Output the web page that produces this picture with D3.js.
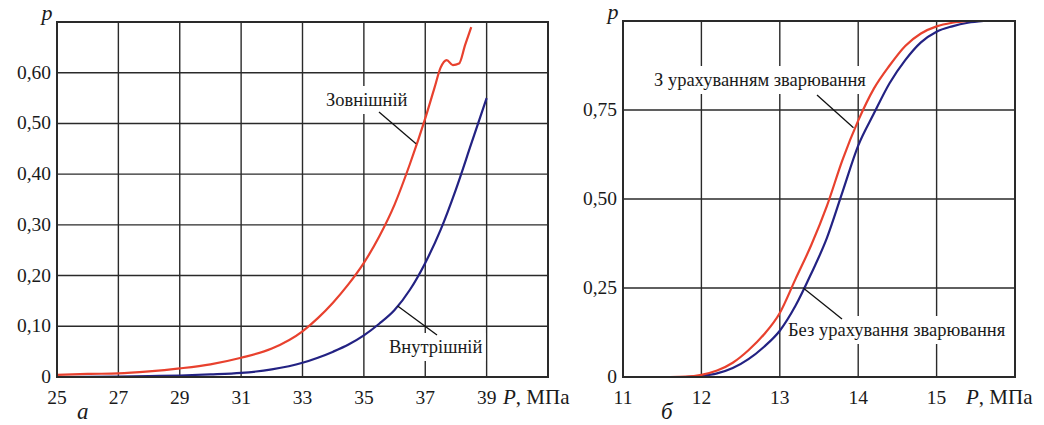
<!DOCTYPE html>
<html><head><meta charset="utf-8">
<script src="https://cdn.jsdelivr.net/npm/d3@7"></script>
<style>body{margin:0;background:#fff}svg{display:block}</style>
</head><body><svg id="c" width="1044" height="425"></svg>
<script>
// Panel a data
const aOuterP = [25,26,27,28,29,30,31,32,33,33.5,34,34.5,35,35.5,36,36.5,37,37.3,37.5,37.7,37.9,38.1,38.3,38.5];
const aOuterV = [0.004,0.006,0.007,0.011,0.017,0.025,0.038,0.056,0.09,0.116,0.147,0.183,0.225,0.277,0.34,0.42,0.51,0.57,0.61,0.625,0.615,0.618,0.655,0.69];
const aInnerP = [25,27,28,29,30,31,32,33,33.5,34,34.5,35,35.5,36,36.5,37,37.5,38,38.5,39];
const aInnerV = [0,0.001,0.002,0.003,0.005,0.008,0.015,0.028,0.038,0.05,0.064,0.082,0.105,0.132,0.172,0.225,0.29,0.37,0.46,0.55];
const aXTicks = [25,27,29,31,33,35,37,39];
const aYTicks = [0,0.1,0.2,0.3,0.4,0.5,0.6];
const aYLabels = ["0","0,10","0,20","0,30","0,40","0,50","0,60"];
// Panel b data
const bWithP = [11.6,11.8,12.0,12.2,12.4,12.6,12.8,13.0,13.2,13.4,13.6,13.8,14.0,14.2,14.4,14.6,14.8,15.0,15.2,15.4];
const bWithV = [0,0.001,0.006,0.018,0.04,0.075,0.12,0.18,0.275,0.37,0.48,0.61,0.72,0.81,0.875,0.93,0.965,0.985,0.995,1.0];
const bWithoutP = [11.6,11.8,12.0,12.2,12.4,12.6,12.8,13.0,13.2,13.4,13.6,13.8,14.0,14.2,14.4,14.6,14.8,15.0,15.2,15.4,15.6];
const bWithoutV = [0,0,0.003,0.01,0.025,0.05,0.085,0.13,0.2,0.29,0.39,0.52,0.65,0.74,0.825,0.89,0.94,0.97,0.985,0.995,1.0];
const bXTicks = [11,12,13,14,15];
const bYTicks = [0,0.25,0.5,0.75];
const bYLabels = ["0","0,25","0,50","0,75"];

const RED = "#e8412e", BLUE = "#232283", GRID = "#2a2a2a", TXT = "#1a1a1a";
const FONT = '"Liberation Serif"';
const svg = d3.select("#c");

function txt(g){ return g.append("text").style("font-family", FONT).attr("fill", TXT); }

function panel(o){
  const g = svg.append("g");
  const grid = g.append("g"), bg = g.append("g"), curves = g.append("g"), top = g.append("g");
  const x = d3.scaleLinear().domain(o.xd).range([o.x0, o.x1]);
  const y = d3.scaleLinear().domain(o.yd).range([o.y0, o.y1]);
  grid.selectAll(".vg").data(o.xt).join("line")
    .attr("x1", d=>x(d)).attr("x2", d=>x(d)).attr("y1", o.y0).attr("y2", o.y1)
    .attr("stroke", GRID).attr("stroke-width", 1.4);
  grid.selectAll(".hg").data(o.yt).join("line")
    .attr("y1", d=>y(d)).attr("y2", d=>y(d)).attr("x1", o.x0).attr("x2", o.x1)
    .attr("stroke", GRID).attr("stroke-width", 1.4);
  top.append("rect").attr("x", o.x0).attr("y", o.y1).attr("width", o.x1-o.x0).attr("height", o.y0-o.y1)
    .attr("fill","none").attr("stroke", GRID).attr("stroke-width", 2);
  top.selectAll(".xl").data(o.xt).join("text")
    .style("font-family", FONT).attr("fill", TXT)
    .attr("x", d=>x(d)).attr("y", o.y0+27).attr("text-anchor","middle")
    .attr("font-size", 19.5).text(d=>d);
  top.selectAll(".yl").data(o.yt).join("text")
    .style("font-family", FONT).attr("fill", TXT)
    .attr("x", o.x0-6).attr("y", d=>y(d)+6).attr("text-anchor","end")
    .attr("font-size", 19.5).text((d,i)=>o.yl[i]);
  txt(top).attr("x", o.x0-10).attr("y", o.y1-2).attr("font-size", 22)
    .attr("font-style","italic").attr("text-anchor","middle").text("p");
  const ax = txt(top).attr("x", o.px).attr("y", o.y0+27).attr("font-size", 21);
  ax.append("tspan").attr("font-style","italic").text("P");
  ax.append("tspan").text(", МПа");
  txt(top).attr("x", o.lx).attr("y", o.y0+42).attr("font-size", 23)
    .attr("font-style","italic").text(o.letter);
  return {g, grid, bg, curves, top, x, y};
}

function curve(p, P, V, color){
  const data = P.map((d,i)=>[d, V[i]]);
  p.curves.append("path").datum(data)
    .attr("d", d3.line().x(d=>p.x(d[0])).y(d=>p.y(d[1])).curve(d3.curveMonotoneX))
    .attr("fill","none").attr("stroke", color).attr("stroke-width", 2.2);
}

function label(p, text, tx, ty, pt, lt){
  const t = txt(p.top).attr("x", tx).attr("y", ty).attr("font-size", 18.5).text(text);
  const bb = t.node().getBBox();
  p.bg.append("rect")
    .attr("x", bb.x-3).attr("y", bb.y-4).attr("width", bb.width+6).attr("height", bb.height+8).attr("fill","#fff");
  p.top.append("line").attr("x1", pt[0]).attr("y1", pt[1]).attr("x2", p.x(lt[0])).attr("y2", p.y(lt[1]))
    .attr("stroke","#111").attr("stroke-width", 1.3);
}

const pa = panel({xd:[25,41], yd:[0,0.7], x0:57, x1:548, y0:377, y1:22, xt:aXTicks, yt:aYTicks, yl:aYLabels, px:503, lx:77, letter:"а"});
curve(pa, aInnerP, aInnerV, BLUE);
curve(pa, aOuterP, aOuterV, RED);
label(pa, "Зовнішній", 326, 106, [379,112], [36.7,0.46]);
label(pa, "Внутрішній", 389, 353, [437,335], [36.1,0.14]);

const pb = panel({xd:[11,16], yd:[0,1], x0:623, x1:1015, y0:377, y1:21, xt:bXTicks, yt:bYTicks, yl:bYLabels, px:966, lx:661, letter:"б"});
curve(pb, bWithoutP, bWithoutV, BLUE);
curve(pb, bWithP, bWithV, RED);
label(pb, "З урахуванням зварювання", 654, 86, [817,95], [13.94,0.70]);
label(pb, "Без урахування зварювання", 788, 336, [842,319], [13.3,0.25]);
</script></body></html>
